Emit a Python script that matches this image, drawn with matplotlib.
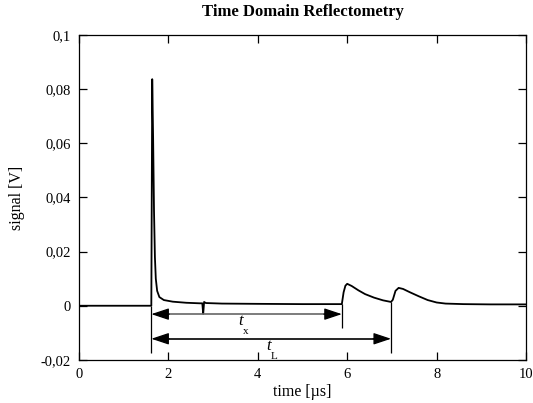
import matplotlib
matplotlib.use('Agg')
import matplotlib.pyplot as plt

# signal
time = [0.0, 0.5, 1.0, 1.5, 1.62, 1.64, 1.66, 1.68, 1.70, 1.72, 1.75, 1.80, 1.90,
        2.1, 2.4, 2.7, 2.76, 2.78, 2.80, 2.84, 3.2, 4.0, 5.0, 5.88, 5.92, 5.96,
        6.0, 6.1, 6.25, 6.4, 6.6, 6.8, 6.98, 7.02, 7.08, 7.15, 7.25, 7.4, 7.6,
        7.8, 8.0, 8.2, 8.6, 9.2, 10.0]
signal = [0.0, 0.0, 0.0, 0.0, 0.0, 0.0837, 0.062, 0.035, 0.018, 0.010, 0.0055, 0.0032, 0.0021,
          0.0015, 0.0011, 0.0009, 0.0009, -0.003, 0.0014, 0.0010, 0.0008, 0.0007, 0.0006, 0.0006, 0.0050, 0.0074,
          0.0081, 0.0073, 0.0057, 0.0043, 0.0030, 0.0020, 0.0014, 0.0022, 0.0055, 0.0066, 0.0062, 0.0050, 0.0035,
          0.0021, 0.0012, 0.0008, 0.0006, 0.0005, 0.0005]

xticks = [0, 2, 4, 6, 8, 10]
yticks = [-0.02, 0, 0.02, 0.04, 0.06, 0.08, 0.1]
ytick_labels = ['-0,02', '0', '0,02', '0,04', '0,06', '0,08', '0,1']

# markers for the travel times
marker_t = [1.62, 5.88, 6.98]
marker_top = [0.0, 0.0006, 0.0014]
marker_bottom = [-0.0173, -0.0081, -0.0173]
t_x = (1.62, 5.88, -0.0031)
t_L = (1.62, 6.98, -0.0122)

plt.rcParams['font.family'] = ['Liberation Serif', 'DejaVu Serif']

fig = plt.figure(figsize=(5.33, 4.03), dpi=100)
ax = fig.add_axes([0.148, 0.107, 0.839, 0.806])

ax.plot(time, signal, color='black', lw=1.3)
ax.vlines(marker_t, marker_bottom, marker_top, color='black', lw=0.9)


def double_arrow(x0, x1, y, line_color):
    ax.hlines(y, x0 + 0.2, x1 - 0.2, color=line_color, lw=1.2)
    head = dict(arrowstyle='-|>,head_length=0.9,head_width=0.3', mutation_scale=12,
                color='black', lw=0.9, shrinkA=0, shrinkB=0)
    ax.annotate('', xy=(x0, y), xytext=(x0 + 0.4, y), arrowprops=head)
    ax.annotate('', xy=(x1, y), xytext=(x1 - 0.4, y), arrowprops=head)


double_arrow(t_x[0], t_x[1], t_x[2], '#666666')
double_arrow(t_L[0], t_L[1], t_L[2], 'black')

ax.text(3.62, -0.0058, 't', style='italic', fontsize=12, ha='center', va='center')
ax.text(3.74, -0.0095, 'x', fontsize=8, ha='center', va='center')
ax.text(4.25, -0.0148, 't', style='italic', fontsize=12, ha='center', va='center')
ax.text(4.37, -0.0186, 'L', fontsize=8, ha='center', va='center')

ax.set_xlim(0, 10)
ax.set_ylim(-0.02, 0.1)
ax.set_xticks(xticks)
ax.set_xticklabels([str(v) for v in xticks])
ax.set_yticks(yticks)
ax.set_yticklabels(ytick_labels)
ax.tick_params(direction='in', length=6, width=0.9, top=True, right=True,
               labelsize=10.5, pad=6)
for s in ax.spines.values():
    s.set_linewidth(0.9)

ax.set_xlabel('time [µs]', fontsize=11.5, labelpad=2)
ax.set_ylabel('signal [V]', fontsize=11.5, labelpad=11)
ax.set_title('Time Domain Reflectometry', fontsize=12, fontweight='bold', pad=14)

fig.savefig('out.png', dpi=100)
